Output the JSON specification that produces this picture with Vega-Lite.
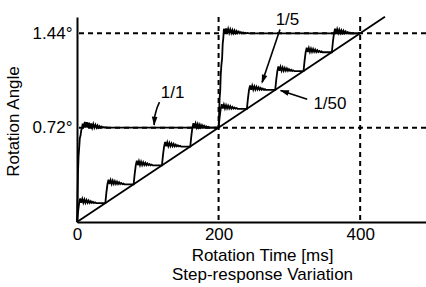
{
  "$schema": "https://vega.github.io/schema/vega-lite/v6.json",
  "width": 349,
  "height": 205,
  "autosize": {"type": "none"},
  "padding": {"left": 77, "top": 17, "right": 0, "bottom": 65},
  "background": "white",
  "config": {
    "view": {"stroke": null},
    "font": "Liberation Sans",
    "axis": {"grid": false, "ticks": false, "domainColor": "black", "domainWidth": 2, "labelFont": "Liberation Sans", "labelFontSize": 17, "labelColor": "black", "titleFont": "Liberation Sans", "titleFontSize": 17, "titleFontWeight": "normal", "titleColor": "black", "labelOverlap": false, "labelBound": false, "labelFlush": false},
    "axisX": {"labelPadding": 4, "labelAngle": 0, "titleX": 185, "titleY": 25, "titleAlign": "center", "titleBaseline": "top", "titleLineHeight": 19},
    "axisY": {"labelPadding": 5, "titleX": -64, "titleY": 104, "titleAlign": "center", "titleBaseline": "middle", "titleAngle": 270}
  },
  "datasets": {
    "hrefs": [{"a": 0.72}, {"a": 1.44}],
    "vrefs": [{"t": 200}, {"t": 400}],
    "curves": [
      {"s": "1/1", "t": 0, "a": 0}, {"s": "1/1", "t": 0.7, "a": 0.2}, {"s": "1/1", "t": 1.4, "a": 0.38}, {"s": "1/1", "t": 2.2, "a": 0.5}, {"s": "1/1", "t": 3, "a": 0.56}, {"s": "1/1", "t": 4, "a": 0.64}, {"s": "1/1", "t": 5, "a": 0.66}, {"s": "1/1", "t": 6, "a": 0.7}, {"s": "1/1", "t": 7, "a": 0.715},
      {"s": "1/1", "t": 8, "a": 0.75}, {"s": "1/1", "t": 9.5, "a": 0.718}, {"s": "1/1", "t": 11, "a": 0.765}, {"s": "1/1", "t": 12.5, "a": 0.72}, {"s": "1/1", "t": 14, "a": 0.762}, {"s": "1/1", "t": 15.5, "a": 0.72}, {"s": "1/1", "t": 17, "a": 0.758}, {"s": "1/1", "t": 18.5, "a": 0.72}, {"s": "1/1", "t": 20, "a": 0.753}, {"s": "1/1", "t": 21.5, "a": 0.72}, {"s": "1/1", "t": 23, "a": 0.748}, {"s": "1/1", "t": 24.5, "a": 0.72}, {"s": "1/1", "t": 26, "a": 0.742}, {"s": "1/1", "t": 27.5, "a": 0.72}, {"s": "1/1", "t": 29, "a": 0.737}, {"s": "1/1", "t": 30.5, "a": 0.72}, {"s": "1/1", "t": 32, "a": 0.732}, {"s": "1/1", "t": 33.5, "a": 0.72}, {"s": "1/1", "t": 35, "a": 0.728}, {"s": "1/1", "t": 36.5, "a": 0.72}, {"s": "1/1", "t": 38, "a": 0.725}, {"s": "1/1", "t": 39.5, "a": 0.72}, {"s": "1/1", "t": 41, "a": 0.723}, {"s": "1/1", "t": 43, "a": 0.72},
      {"s": "1/1", "t": 200, "a": 0.72}, {"s": "1/1", "t": 200.7, "a": 0.82}, {"s": "1/1", "t": 201.5, "a": 0.95}, {"s": "1/1", "t": 202.3, "a": 1.0}, {"s": "1/1", "t": 203, "a": 1.12}, {"s": "1/1", "t": 204, "a": 1.2}, {"s": "1/1", "t": 205, "a": 1.25}, {"s": "1/1", "t": 205.8, "a": 1.36}, {"s": "1/1", "t": 206.6, "a": 1.4},
      {"s": "1/1", "t": 207.5, "a": 1.475}, {"s": "1/1", "t": 209, "a": 1.442}, {"s": "1/1", "t": 210.5, "a": 1.478}, {"s": "1/1", "t": 212, "a": 1.443}, {"s": "1/1", "t": 213.5, "a": 1.474}, {"s": "1/1", "t": 215, "a": 1.443}, {"s": "1/1", "t": 216.5, "a": 1.47}, {"s": "1/1", "t": 218, "a": 1.443}, {"s": "1/1", "t": 219.5, "a": 1.466}, {"s": "1/1", "t": 221, "a": 1.442}, {"s": "1/1", "t": 222.5, "a": 1.462}, {"s": "1/1", "t": 224, "a": 1.442}, {"s": "1/1", "t": 225.5, "a": 1.458}, {"s": "1/1", "t": 227, "a": 1.442}, {"s": "1/1", "t": 228.5, "a": 1.454}, {"s": "1/1", "t": 230, "a": 1.441}, {"s": "1/1", "t": 231.5, "a": 1.45}, {"s": "1/1", "t": 233, "a": 1.441}, {"s": "1/1", "t": 234.5, "a": 1.447}, {"s": "1/1", "t": 236, "a": 1.44}, {"s": "1/1", "t": 237.5, "a": 1.445}, {"s": "1/1", "t": 239, "a": 1.44}, {"s": "1/1", "t": 241, "a": 1.443}, {"s": "1/1", "t": 243, "a": 1.44}, {"s": "1/1", "t": 400, "a": 1.44},

      {"s": "1/5", "t": 0, "a": 0}, {"s": "1/5", "t": 1.5, "a": 0.08}, {"s": "1/5", "t": 3, "a": 0.144}, {"s": "1/5", "t": 4.5, "a": 0.179}, {"s": "1/5", "t": 6, "a": 0.146}, {"s": "1/5", "t": 7.5, "a": 0.176}, {"s": "1/5", "t": 9, "a": 0.147}, {"s": "1/5", "t": 10.5, "a": 0.172}, {"s": "1/5", "t": 12, "a": 0.147}, {"s": "1/5", "t": 13.5, "a": 0.168}, {"s": "1/5", "t": 15, "a": 0.147}, {"s": "1/5", "t": 16.5, "a": 0.164}, {"s": "1/5", "t": 18, "a": 0.146}, {"s": "1/5", "t": 19.5, "a": 0.159}, {"s": "1/5", "t": 21, "a": 0.146}, {"s": "1/5", "t": 22.5, "a": 0.154}, {"s": "1/5", "t": 24, "a": 0.145}, {"s": "1/5", "t": 25.5, "a": 0.15}, {"s": "1/5", "t": 27, "a": 0.144},
      {"s": "1/5", "t": 40, "a": 0.144}, {"s": "1/5", "t": 41.5, "a": 0.224}, {"s": "1/5", "t": 43, "a": 0.288}, {"s": "1/5", "t": 44.5, "a": 0.323}, {"s": "1/5", "t": 46, "a": 0.29}, {"s": "1/5", "t": 47.5, "a": 0.32}, {"s": "1/5", "t": 49, "a": 0.291}, {"s": "1/5", "t": 50.5, "a": 0.316}, {"s": "1/5", "t": 52, "a": 0.291}, {"s": "1/5", "t": 53.5, "a": 0.312}, {"s": "1/5", "t": 55, "a": 0.291}, {"s": "1/5", "t": 56.5, "a": 0.308}, {"s": "1/5", "t": 58, "a": 0.29}, {"s": "1/5", "t": 59.5, "a": 0.303}, {"s": "1/5", "t": 61, "a": 0.29}, {"s": "1/5", "t": 62.5, "a": 0.298}, {"s": "1/5", "t": 64, "a": 0.289}, {"s": "1/5", "t": 65.5, "a": 0.294}, {"s": "1/5", "t": 67, "a": 0.288},
      {"s": "1/5", "t": 80, "a": 0.288}, {"s": "1/5", "t": 81.5, "a": 0.368}, {"s": "1/5", "t": 83, "a": 0.432}, {"s": "1/5", "t": 84.5, "a": 0.467}, {"s": "1/5", "t": 86, "a": 0.434}, {"s": "1/5", "t": 87.5, "a": 0.464}, {"s": "1/5", "t": 89, "a": 0.435}, {"s": "1/5", "t": 90.5, "a": 0.46}, {"s": "1/5", "t": 92, "a": 0.435}, {"s": "1/5", "t": 93.5, "a": 0.456}, {"s": "1/5", "t": 95, "a": 0.435}, {"s": "1/5", "t": 96.5, "a": 0.452}, {"s": "1/5", "t": 98, "a": 0.434}, {"s": "1/5", "t": 99.5, "a": 0.447}, {"s": "1/5", "t": 101, "a": 0.434}, {"s": "1/5", "t": 102.5, "a": 0.442}, {"s": "1/5", "t": 104, "a": 0.433}, {"s": "1/5", "t": 105.5, "a": 0.438}, {"s": "1/5", "t": 107, "a": 0.432},
      {"s": "1/5", "t": 120, "a": 0.432}, {"s": "1/5", "t": 121.5, "a": 0.512}, {"s": "1/5", "t": 123, "a": 0.576}, {"s": "1/5", "t": 124.5, "a": 0.611}, {"s": "1/5", "t": 126, "a": 0.578}, {"s": "1/5", "t": 127.5, "a": 0.608}, {"s": "1/5", "t": 129, "a": 0.579}, {"s": "1/5", "t": 130.5, "a": 0.604}, {"s": "1/5", "t": 132, "a": 0.579}, {"s": "1/5", "t": 133.5, "a": 0.6}, {"s": "1/5", "t": 135, "a": 0.579}, {"s": "1/5", "t": 136.5, "a": 0.596}, {"s": "1/5", "t": 138, "a": 0.578}, {"s": "1/5", "t": 139.5, "a": 0.591}, {"s": "1/5", "t": 141, "a": 0.578}, {"s": "1/5", "t": 142.5, "a": 0.586}, {"s": "1/5", "t": 144, "a": 0.577}, {"s": "1/5", "t": 145.5, "a": 0.582}, {"s": "1/5", "t": 147, "a": 0.576},
      {"s": "1/5", "t": 160, "a": 0.576}, {"s": "1/5", "t": 161.5, "a": 0.656}, {"s": "1/5", "t": 163, "a": 0.72}, {"s": "1/5", "t": 164.5, "a": 0.755}, {"s": "1/5", "t": 166, "a": 0.722}, {"s": "1/5", "t": 167.5, "a": 0.752}, {"s": "1/5", "t": 169, "a": 0.723}, {"s": "1/5", "t": 170.5, "a": 0.748}, {"s": "1/5", "t": 172, "a": 0.723}, {"s": "1/5", "t": 173.5, "a": 0.744}, {"s": "1/5", "t": 175, "a": 0.723}, {"s": "1/5", "t": 176.5, "a": 0.74}, {"s": "1/5", "t": 178, "a": 0.722}, {"s": "1/5", "t": 179.5, "a": 0.735}, {"s": "1/5", "t": 181, "a": 0.722}, {"s": "1/5", "t": 182.5, "a": 0.73}, {"s": "1/5", "t": 184, "a": 0.721}, {"s": "1/5", "t": 185.5, "a": 0.726}, {"s": "1/5", "t": 187, "a": 0.72},
      {"s": "1/5", "t": 200, "a": 0.72}, {"s": "1/5", "t": 201.5, "a": 0.8}, {"s": "1/5", "t": 203, "a": 0.864}, {"s": "1/5", "t": 204.5, "a": 0.899}, {"s": "1/5", "t": 206, "a": 0.866}, {"s": "1/5", "t": 207.5, "a": 0.896}, {"s": "1/5", "t": 209, "a": 0.867}, {"s": "1/5", "t": 210.5, "a": 0.892}, {"s": "1/5", "t": 212, "a": 0.867}, {"s": "1/5", "t": 213.5, "a": 0.888}, {"s": "1/5", "t": 215, "a": 0.867}, {"s": "1/5", "t": 216.5, "a": 0.884}, {"s": "1/5", "t": 218, "a": 0.866}, {"s": "1/5", "t": 219.5, "a": 0.879}, {"s": "1/5", "t": 221, "a": 0.866}, {"s": "1/5", "t": 222.5, "a": 0.874}, {"s": "1/5", "t": 224, "a": 0.865}, {"s": "1/5", "t": 225.5, "a": 0.87}, {"s": "1/5", "t": 227, "a": 0.864},
      {"s": "1/5", "t": 240, "a": 0.864}, {"s": "1/5", "t": 241.5, "a": 0.944}, {"s": "1/5", "t": 243, "a": 1.008}, {"s": "1/5", "t": 244.5, "a": 1.043}, {"s": "1/5", "t": 246, "a": 1.01}, {"s": "1/5", "t": 247.5, "a": 1.04}, {"s": "1/5", "t": 249, "a": 1.011}, {"s": "1/5", "t": 250.5, "a": 1.036}, {"s": "1/5", "t": 252, "a": 1.011}, {"s": "1/5", "t": 253.5, "a": 1.032}, {"s": "1/5", "t": 255, "a": 1.011}, {"s": "1/5", "t": 256.5, "a": 1.028}, {"s": "1/5", "t": 258, "a": 1.01}, {"s": "1/5", "t": 259.5, "a": 1.023}, {"s": "1/5", "t": 261, "a": 1.01}, {"s": "1/5", "t": 262.5, "a": 1.018}, {"s": "1/5", "t": 264, "a": 1.009}, {"s": "1/5", "t": 265.5, "a": 1.014}, {"s": "1/5", "t": 267, "a": 1.008},
      {"s": "1/5", "t": 280, "a": 1.008}, {"s": "1/5", "t": 281.5, "a": 1.088}, {"s": "1/5", "t": 283, "a": 1.152}, {"s": "1/5", "t": 284.5, "a": 1.187}, {"s": "1/5", "t": 286, "a": 1.154}, {"s": "1/5", "t": 287.5, "a": 1.184}, {"s": "1/5", "t": 289, "a": 1.155}, {"s": "1/5", "t": 290.5, "a": 1.18}, {"s": "1/5", "t": 292, "a": 1.155}, {"s": "1/5", "t": 293.5, "a": 1.176}, {"s": "1/5", "t": 295, "a": 1.155}, {"s": "1/5", "t": 296.5, "a": 1.172}, {"s": "1/5", "t": 298, "a": 1.154}, {"s": "1/5", "t": 299.5, "a": 1.167}, {"s": "1/5", "t": 301, "a": 1.154}, {"s": "1/5", "t": 302.5, "a": 1.162}, {"s": "1/5", "t": 304, "a": 1.153}, {"s": "1/5", "t": 305.5, "a": 1.158}, {"s": "1/5", "t": 307, "a": 1.152},
      {"s": "1/5", "t": 320, "a": 1.152}, {"s": "1/5", "t": 321.5, "a": 1.232}, {"s": "1/5", "t": 323, "a": 1.296}, {"s": "1/5", "t": 324.5, "a": 1.331}, {"s": "1/5", "t": 326, "a": 1.298}, {"s": "1/5", "t": 327.5, "a": 1.328}, {"s": "1/5", "t": 329, "a": 1.299}, {"s": "1/5", "t": 330.5, "a": 1.324}, {"s": "1/5", "t": 332, "a": 1.299}, {"s": "1/5", "t": 333.5, "a": 1.32}, {"s": "1/5", "t": 335, "a": 1.299}, {"s": "1/5", "t": 336.5, "a": 1.316}, {"s": "1/5", "t": 338, "a": 1.298}, {"s": "1/5", "t": 339.5, "a": 1.311}, {"s": "1/5", "t": 341, "a": 1.298}, {"s": "1/5", "t": 342.5, "a": 1.306}, {"s": "1/5", "t": 344, "a": 1.297}, {"s": "1/5", "t": 345.5, "a": 1.302}, {"s": "1/5", "t": 347, "a": 1.296},
      {"s": "1/5", "t": 360, "a": 1.296}, {"s": "1/5", "t": 361.5, "a": 1.376}, {"s": "1/5", "t": 363, "a": 1.44}, {"s": "1/5", "t": 364.5, "a": 1.475}, {"s": "1/5", "t": 366, "a": 1.442}, {"s": "1/5", "t": 367.5, "a": 1.472}, {"s": "1/5", "t": 369, "a": 1.443}, {"s": "1/5", "t": 370.5, "a": 1.468}, {"s": "1/5", "t": 372, "a": 1.443}, {"s": "1/5", "t": 373.5, "a": 1.464}, {"s": "1/5", "t": 375, "a": 1.443}, {"s": "1/5", "t": 376.5, "a": 1.46}, {"s": "1/5", "t": 378, "a": 1.442}, {"s": "1/5", "t": 379.5, "a": 1.455}, {"s": "1/5", "t": 381, "a": 1.442}, {"s": "1/5", "t": 382.5, "a": 1.45}, {"s": "1/5", "t": 384, "a": 1.441}, {"s": "1/5", "t": 385.5, "a": 1.446}, {"s": "1/5", "t": 387, "a": 1.44}, {"s": "1/5", "t": 400, "a": 1.44},

      {"s": "1/50", "t": 0, "a": 0}, {"s": "1/50", "t": 435, "a": 1.566}
    ],
    "arrows": [
      {"arrow": "1/1", "i": 0, "t": 116.5, "a": 0.916}, {"arrow": "1/1", "i": 1, "t": 110.9, "a": 0.83}, {"arrow": "1/1", "i": 2, "t": 109.0, "a": 0.776}, {"arrow": "1/1", "i": 3, "t": 109.0, "a": 0.74},
      {"arrow": "1/5", "i": 0, "t": 286.7, "a": 1.469}, {"arrow": "1/5", "i": 1, "t": 261.5, "a": 1.066},
      {"arrow": "1/50", "i": 0, "t": 325.2, "a": 0.937}, {"arrow": "1/50", "i": 1, "t": 287.5, "a": 1.004}
    ],
    "heads": [
      {"arrow": "1/1", "t": 109.0, "a": 0.735},
      {"arrow": "1/5", "t": 260.9, "a": 1.056},
      {"arrow": "1/50", "t": 286.7, "a": 1.006}
    ],
    "notes": [
      {"label": "1/1", "t": 135.1, "a": 0.982},
      {"label": "1/5", "t": 297.3, "a": 1.542},
      {"label": "1/50", "t": 357.3, "a": 0.904}
    ]
  },
  "layer": [
    {
      "data": {"name": "hrefs"},
      "mark": {"type": "rule", "color": "black", "strokeWidth": 2, "strokeDash": [5, 4]},
      "encoding": {
        "y": {"field": "a", "type": "quantitative", "scale": {"domain": [0, 1.565], "nice": false, "zero": false}, "title": "Rotation Angle", "axis": {"values": [0.72, 1.44], "labelExpr": "format(datum.value, '.2f') + '°'"}}
      }
    },
    {
      "data": {"name": "vrefs"},
      "mark": {"type": "rule", "color": "black", "strokeWidth": 2, "strokeDash": [5, 4]},
      "encoding": {
        "x": {"field": "t", "type": "quantitative", "scale": {"domain": [0, 493], "nice": false, "zero": false}, "title": ["Rotation Time [ms]", "Step-response Variation"], "axis": {"values": [0, 200, 400]}}
      }
    },
    {
      "data": {"name": "curves"},
      "mark": {"type": "line", "color": "black", "strokeWidth": 1.8, "interpolate": "linear"},
      "encoding": {
        "x": {"field": "t", "type": "quantitative", "scale": {"domain": [0, 493], "nice": false, "zero": false}, "title": ["Rotation Time [ms]", "Step-response Variation"]},
        "y": {"field": "a", "type": "quantitative", "scale": {"domain": [0, 1.565], "nice": false, "zero": false}, "title": "Rotation Angle"},
        "detail": {"field": "s", "type": "nominal"}
      }
    },
    {
      "data": {"name": "arrows"},
      "mark": {"type": "line", "color": "black", "strokeWidth": 1.6, "interpolate": "monotone"},
      "encoding": {
        "x": {"field": "t", "type": "quantitative", "scale": {"domain": [0, 493], "nice": false, "zero": false}, "title": ["Rotation Time [ms]", "Step-response Variation"]},
        "y": {"field": "a", "type": "quantitative", "scale": {"domain": [0, 1.565], "nice": false, "zero": false}, "title": "Rotation Angle"},
        "detail": {"field": "arrow", "type": "nominal"},
        "order": {"field": "i", "type": "quantitative"}
      }
    },
    {
      "data": {"name": "heads"},
      "transform": [{"filter": "datum.arrow == '1/1'"}],
      "mark": {"type": "point", "shape": "M0,0L-1.4,4.5L1.4,4.5Z", "size": 16, "filled": true, "color": "black", "opacity": 1, "angle": 183},
      "encoding": {
        "x": {"field": "t", "type": "quantitative", "scale": {"domain": [0, 493], "nice": false, "zero": false}, "title": ["Rotation Time [ms]", "Step-response Variation"]},
        "y": {"field": "a", "type": "quantitative", "scale": {"domain": [0, 1.565], "nice": false, "zero": false}, "title": "Rotation Angle"}
      }
    },
    {
      "data": {"name": "heads"},
      "transform": [{"filter": "datum.arrow == '1/5'"}],
      "mark": {"type": "point", "shape": "M0,0L-1.4,4.5L1.4,4.5Z", "size": 16, "filled": true, "color": "black", "opacity": 1, "angle": 199},
      "encoding": {
        "x": {"field": "t", "type": "quantitative", "scale": {"domain": [0, 493], "nice": false, "zero": false}, "title": ["Rotation Time [ms]", "Step-response Variation"]},
        "y": {"field": "a", "type": "quantitative", "scale": {"domain": [0, 1.565], "nice": false, "zero": false}, "title": "Rotation Angle"}
      }
    },
    {
      "data": {"name": "heads"},
      "transform": [{"filter": "datum.arrow == '1/50'"}],
      "mark": {"type": "point", "shape": "M0,0L-1.4,4.5L1.4,4.5Z", "size": 16, "filled": true, "color": "black", "opacity": 1, "angle": 288},
      "encoding": {
        "x": {"field": "t", "type": "quantitative", "scale": {"domain": [0, 493], "nice": false, "zero": false}, "title": ["Rotation Time [ms]", "Step-response Variation"]},
        "y": {"field": "a", "type": "quantitative", "scale": {"domain": [0, 1.565], "nice": false, "zero": false}, "title": "Rotation Angle"}
      }
    },
    {
      "data": {"name": "notes"},
      "mark": {"type": "text", "font": "Liberation Sans", "fontSize": 17, "color": "black", "align": "center", "baseline": "middle"},
      "encoding": {
        "x": {"field": "t", "type": "quantitative", "scale": {"domain": [0, 493], "nice": false, "zero": false}, "title": ["Rotation Time [ms]", "Step-response Variation"]},
        "y": {"field": "a", "type": "quantitative", "scale": {"domain": [0, 1.565], "nice": false, "zero": false}, "title": "Rotation Angle"},
        "text": {"field": "label", "type": "nominal"}
      }
    }
  ]
}
